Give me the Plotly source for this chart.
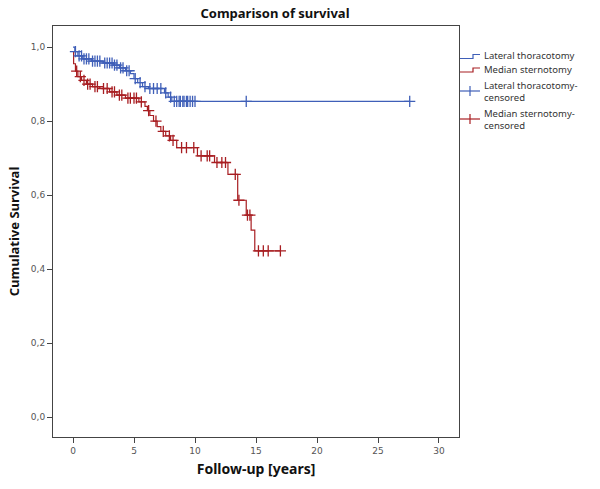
import numpy as np
import plotly.graph_objects as go

# Lateral thoracotomy: step times / survival
lat_t = [0, 0.15, 0.4, 0.8, 1.5, 2.5, 3.3, 3.8, 4.3, 4.7, 5.0, 5.3, 5.7, 6.2, 7.5, 7.8, 8.1, 27.6]
lat_s = [1.0, 0.988, 0.976, 0.968, 0.962, 0.957, 0.951, 0.944, 0.936, 0.928, 0.915, 0.904, 0.893, 0.888, 0.876, 0.865, 0.853, 0.853]
lat_cens = [0.2, 0.5, 0.7, 0.9, 1.1, 1.3, 1.6, 1.8, 2.0, 2.2, 2.6, 2.8, 3.0, 3.2, 3.4, 3.6, 3.9, 4.1,
            4.4, 4.6, 5.1, 5.5, 5.9, 6.3, 6.6, 6.9, 7.2, 7.6, 8.0, 8.3, 8.5, 8.7, 8.8, 9.0, 9.1, 9.3,
            9.4, 9.6, 9.8, 10.0, 14.2, 27.6]

# Median sternotomy: step times / survival
med_t = [0, 0.05, 0.2, 0.4, 0.7, 1.1, 1.6, 2.2, 3.0, 3.6, 4.3, 5.4, 5.9, 6.1, 6.3, 6.6, 6.9, 7.2, 7.6,
         8.0, 8.5, 10.2, 11.6, 12.7, 13.5, 14.2, 14.6, 14.9, 17.0]
med_s = [0.985, 0.955, 0.935, 0.92, 0.91, 0.90, 0.893, 0.888, 0.879, 0.87, 0.862, 0.852, 0.84, 0.828,
         0.815, 0.80, 0.785, 0.772, 0.76, 0.748, 0.728, 0.706, 0.688, 0.656, 0.586, 0.546, 0.505, 0.449, 0.449]
med_cens = [0.3, 0.6, 0.9, 1.2, 1.4, 1.8, 2.0, 2.5, 2.8, 3.2, 3.4, 3.8, 4.0, 4.5, 4.7, 5.0, 5.2, 5.6,
            6.2, 6.8, 7.4, 7.9, 8.2, 8.9, 9.3, 9.9, 10.5, 11.0, 11.2, 11.8, 12.2, 12.5, 13.3, 13.6,
            14.3, 14.5, 15.2, 15.6, 16.0, 17.0]

x_ticks = [0, 5, 10, 15, 20, 25, 30]
y_ticks = [0.0, 0.2, 0.4, 0.6, 0.8, 1.0]

legend_labels = ["Lateral thoracotomy", "Median sternotomy",
                 "Lateral thoracotomy-<br>censored", "Median sternotomy-<br>censored"]

BLUE = "#3f5fb8"
RED = "#a81e22"
W, H = 600, 489
ML, MR, MT, MB = 53, 141, 26, 52
PW, PH = W - ML - MR, H - MT - MB


def step_at(times, surv, pts):
    idx = np.searchsorted(np.array(times), np.array(pts), side="right") - 1
    return [surv[i] for i in idx]


def px(xp):
    return (xp - ML) / PW


def py(yp):
    return 1 - (yp - MT) / PH


fig = go.Figure()
fig.add_trace(go.Scatter(x=lat_t, y=lat_s, mode="lines", line=dict(color=BLUE, width=1.2, shape="hv"),
                         name="Lateral thoracotomy"))
fig.add_trace(go.Scatter(x=med_t, y=med_s, mode="lines", line=dict(color=RED, width=1.2, shape="hv"),
                         name="Median sternotomy"))
fig.add_trace(go.Scatter(x=lat_cens, y=step_at(lat_t, lat_s, lat_cens), mode="markers",
                         marker=dict(symbol="cross-thin", size=8, line=dict(color=BLUE, width=1.3)),
                         name="Lateral thoracotomy-censored"))
fig.add_trace(go.Scatter(x=med_cens, y=step_at(med_t, med_s, med_cens), mode="markers",
                         marker=dict(symbol="cross-thin", size=8, line=dict(color=RED, width=1.3)),
                         name="Median sternotomy-censored"))

# custom legend (step symbols + cross symbols)
shapes = []
annotations = []
sym_colors = [BLUE, RED, BLUE, RED]
text_y = [55.5, 69, 91, 119]
sym_y = [56.5, 70, 91, 119]
for i, (lab, col) in enumerate(zip(legend_labels, sym_colors)):
    y0 = sym_y[i]
    if i < 2:
        path = (f"M {px(460)},{py(y0 + 2)} L {px(473)},{py(y0 + 2)} L {px(473)},{py(y0 - 2)} "
                f"L {px(480)},{py(y0 - 2)}")
        shapes.append(dict(type="path", xref="paper", yref="paper", path=path,
                           line=dict(color=col, width=1.2)))
    else:
        shapes.append(dict(type="line", xref="paper", yref="paper", x0=px(460), x1=px(480),
                           y0=py(y0), y1=py(y0), line=dict(color=col, width=1.2)))
        shapes.append(dict(type="line", xref="paper", yref="paper", x0=px(470), x1=px(470),
                           y0=py(y0 - 5), y1=py(y0 + 5), line=dict(color=col, width=1.2)))
    annotations.append(dict(text=lab, xref="paper", yref="paper", x=px(481.5), y=py(text_y[i]),
                            xanchor="left", yanchor="middle", align="left", showarrow=False,
                            font=dict(size=9.5, color="#333", family="Noto Sans")))

axis_common = dict(showline=True, linecolor="#444", linewidth=1, mirror=True, showgrid=False,
                   zeroline=False, ticks="outside", ticklen=5, tickcolor="#444",
                   tickfont=dict(size=9, color="#555", family="DejaVu Sans"))

fig.update_layout(
    width=W, height=H,
    margin=dict(l=ML, r=MR, t=MT, b=MB),
    paper_bgcolor="white", plot_bgcolor="white",
    separators=",.",
    font=dict(family="Noto Sans", color="#111"),
    title=dict(text="<b>Comparison of survival</b>", x=275 / W, xanchor="center",
               y=1 - 13 / H, yanchor="middle", font=dict(size=13, color="#111")),
    xaxis=dict(range=[-1.64, 31.64], tickvals=x_ticks,
               title=dict(text="<b>Follow-up [years]</b>", font=dict(size=14), standoff=9),
               **axis_common),
    yaxis=dict(range=[-0.054, 1.057], tickvals=y_ticks, tickformat=".1f",
               title=dict(text="<b>Cumulative Survival</b>", font=dict(size=13), standoff=8),
               **axis_common),
    showlegend=False,
    shapes=shapes,
    annotations=annotations,
)

fig.write_html("out.html")
